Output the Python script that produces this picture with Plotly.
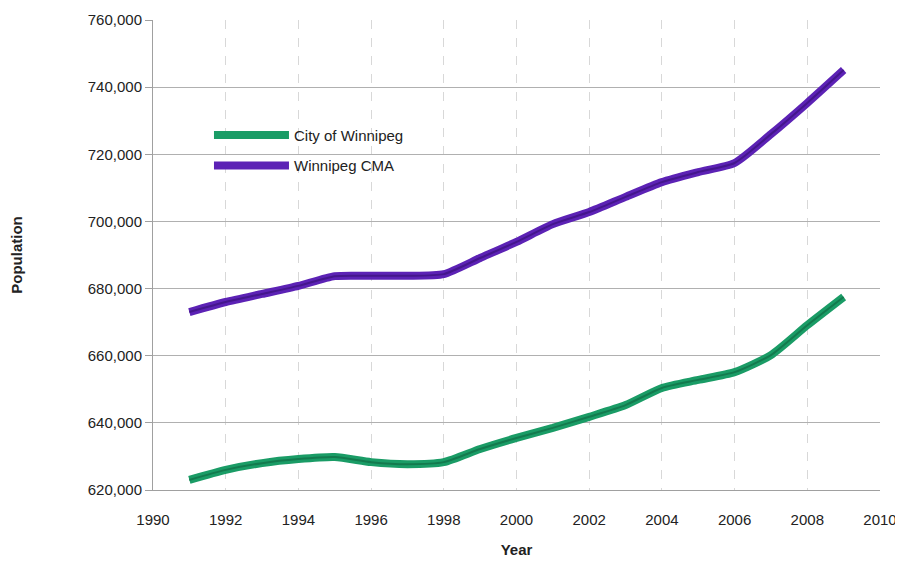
import plotly.graph_objs as go

years = list(range(1991, 2010))
city = [623000, 626000, 628000, 629200, 629800, 628300, 627700, 628300, 632200, 635500,
        638500, 641800, 645300, 650400, 652800, 655100, 660200, 669100, 677500]
cma = [673000, 676000, 678400, 680800, 683700, 683800, 683800, 684300, 689100, 693900,
       699200, 702800, 707300, 711700, 714700, 717400, 726000, 735300, 745100]

fig = go.Figure()
# thick ribbon-like lines, with a darker core for a bit of depth
fig.add_trace(go.Scatter(x=years, y=city, name='City of Winnipeg', mode='lines', legendgroup='a',
                         line=dict(color='#1a9c66', width=8, shape='spline', smoothing=0.6)))
fig.add_trace(go.Scatter(x=years, y=city, mode='lines', showlegend=False, hoverinfo='skip',
                         line=dict(color='#137a4e', width=2, shape='spline', smoothing=0.6)))
fig.add_trace(go.Scatter(x=years, y=cma, name='Winnipeg CMA', mode='lines', legendgroup='b',
                         line=dict(color='#5c22b5', width=8, shape='spline', smoothing=0.6)))
fig.add_trace(go.Scatter(x=years, y=cma, mode='lines', showlegend=False, hoverinfo='skip',
                         line=dict(color='#44168c', width=2, shape='spline', smoothing=0.6)))

# page body has an 8px margin, so the figure is a little smaller than the window
fig.update_layout(
    width=895, height=554,
    margin=dict(l=145, r=23, t=12, b=72, autoexpand=False),
    paper_bgcolor='white', plot_bgcolor='white',
    font=dict(family='Liberation Sans, Arial', size=15, color='#222'),
    legend=dict(x=0.077, y=0.79, xanchor='left', yanchor='top', bgcolor='rgba(0,0,0,0)',
                font=dict(size=15), itemwidth=75, tracegroupgap=8),
    xaxis=dict(range=[1990, 2010], dtick=2, tick0=1990, showgrid=True,
               gridcolor='#d8d8d8', griddash='dash', showline=True, linecolor='#a0a0a0',
               ticks='', ticklabelstandoff=16,
               title=dict(text='<b>Year</b>', font=dict(size=15), standoff=17),
               zeroline=False, automargin=False),
    yaxis=dict(range=[620000, 760000], dtick=20000, tickformat=',', showgrid=True,
               gridcolor='#b0b0b0', showline=True, linecolor='#a0a0a0',
               ticks='outside', ticklen=7, tickcolor='#a0a0a0',
               title=dict(text='<b>Population</b>', font=dict(size=15), standoff=66),
               zeroline=False, automargin=False),
)

fig.write_html("out.html")
